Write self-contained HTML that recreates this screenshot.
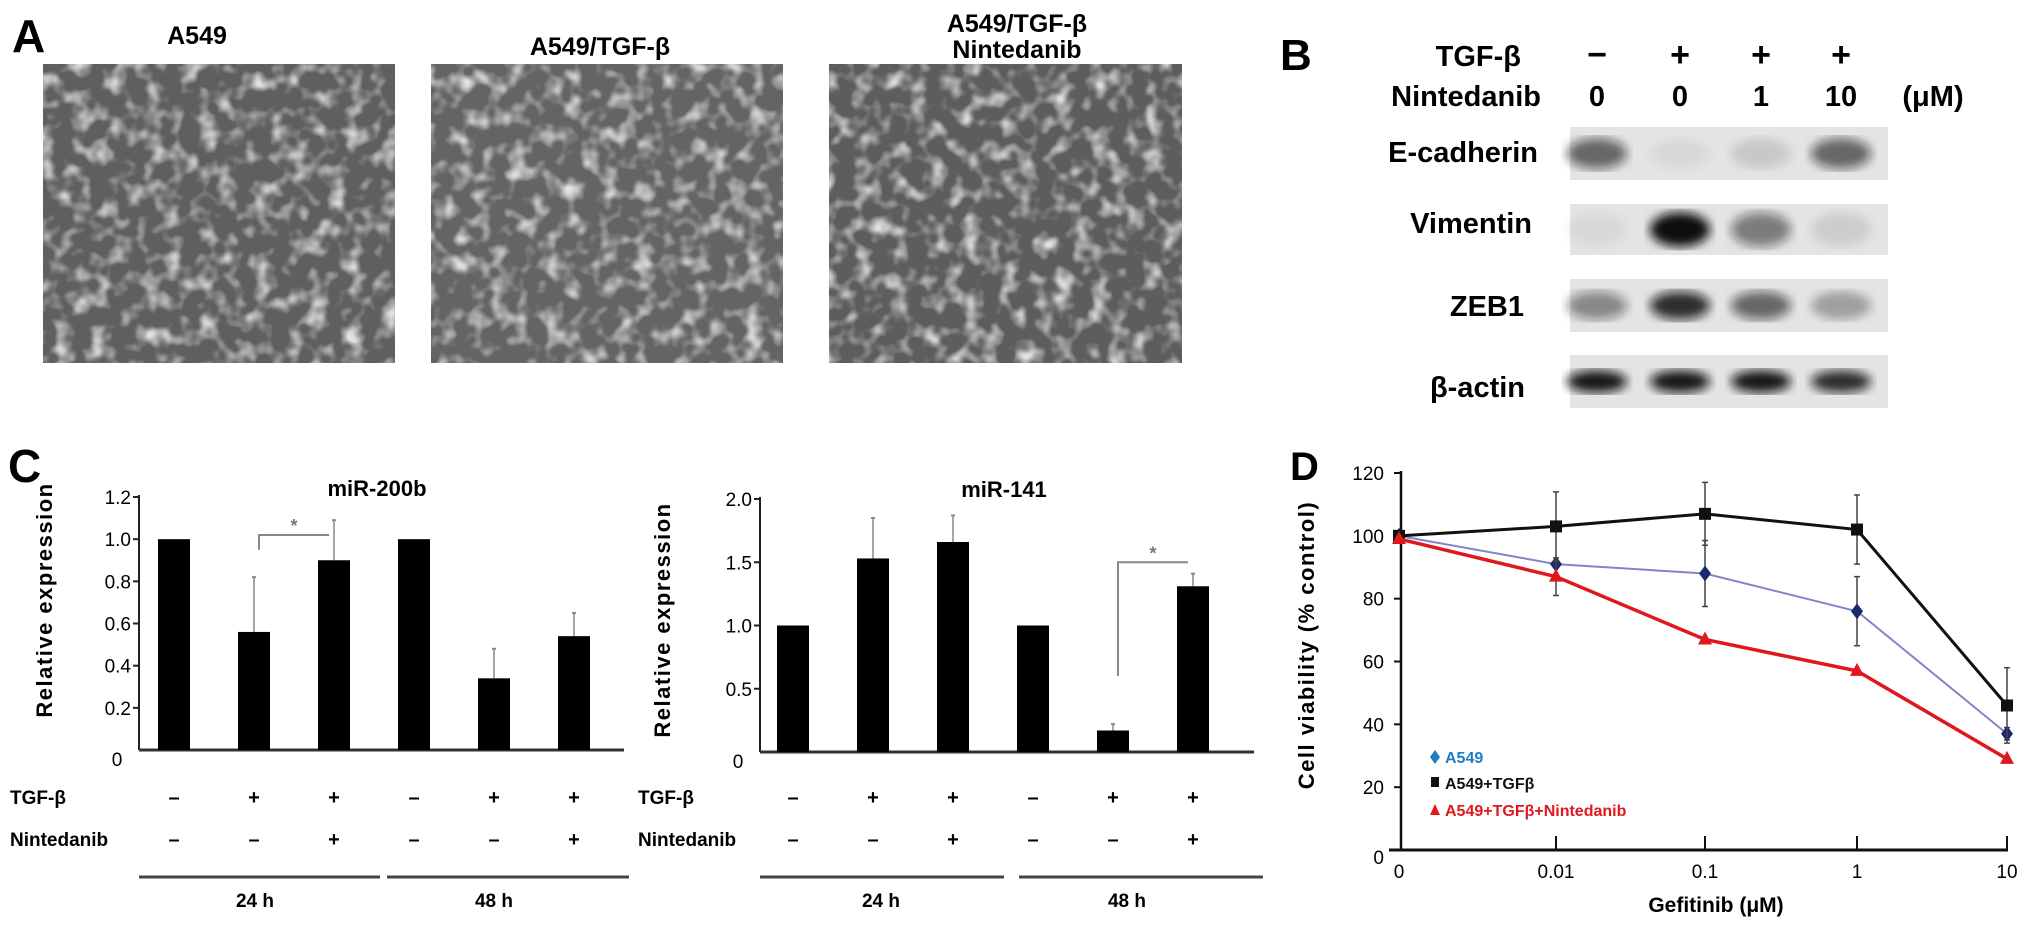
<!DOCTYPE html>
<html><head><meta charset="utf-8"><style>
body{margin:0;background:#fff}
svg{display:block;font-family:"Liberation Sans",Arial,sans-serif;font-weight:bold}
</style></head><body>
<svg id="fig" width="2031" height="927" viewBox="0 0 2031 927" xmlns="http://www.w3.org/2000/svg">
<defs>
<filter id="cells" x="0" y="0" width="100%" height="100%">
<feTurbulence type="fractalNoise" baseFrequency="0.055" numOctaves="2" seed="4"/>
<feColorMatrix type="matrix" values="0 0 0 0 0.75  0 0 0 0 0.75  0 0 0 0 0.75  2.6 0 0 0 -1.2"/>
</filter>
<filter id="blur"><feGaussianBlur stdDeviation="5"/></filter>
</defs>
<rect width="2031" height="927" fill="#fff"/>
<g>
<text x="12" y="52" font-size="46">A</text>
<text x="197" y="44" font-size="25" text-anchor="middle">A549</text>
<text x="600" y="55" font-size="25" text-anchor="middle">A549/TGF-β</text>
<text x="1017" y="32" font-size="25" text-anchor="middle">A549/TGF-β</text>
<text x="1017" y="58" font-size="25" text-anchor="middle">Nintedanib</text>
<g><rect x="43" y="64" width="352" height="299" fill="#5f5f5f"/><rect x="43" y="64" width="352" height="299" filter="url(#cells)"/></g>
<g><rect x="431" y="64" width="352" height="299" fill="#646464"/><rect x="431" y="64" width="352" height="299" filter="url(#cells)"/></g>
<g><rect x="829" y="64" width="353" height="299" fill="#5d5d5d"/><rect x="829" y="64" width="353" height="299" filter="url(#cells)"/></g>
</g>
<g id="pb" font-size="29">
<text x="1280" y="70" font-size="44">B</text>
<text x="1521" y="66" text-anchor="end">TGF-β</text>
<text x="1541" y="106" text-anchor="end">Nintedanib</text>
<text x="1933" y="106" text-anchor="middle">(μM)</text>
<text x="1538" y="162" text-anchor="end">E-cadherin</text>
<text x="1532" y="233" text-anchor="end">Vimentin</text>
<text x="1524" y="316" text-anchor="end">ZEB1</text>
<text x="1525" y="397" text-anchor="end">β-actin</text>
</g>
<g id="gC"></g>
<g id="gD"></g>
</svg>
<script>
const NS="http://www.w3.org/2000/svg";
function mk(p,t,a,txt){const e=document.createElementNS(NS,t);for(const k in a)e.setAttribute(k,a[k]);if(txt!==undefined)e.textContent=txt;p.appendChild(e);return e;}
const laneTGF=["−","+","+","+"];
const laneNint=["0","0","1","10"];
const ecadInt=[0.6,0.05,0.12,0.6];
const vimInt=[0.05,1.0,0.5,0.1];
const zebInt=[0.45,0.85,0.6,0.3];
const actInt=[0.95,0.95,0.95,0.85];
const pb=document.getElementById('pb');
const laneX=[1597,1680,1761,1841];
laneX.forEach((x,i)=>{
 const a=mk(pb,'text',{x:x,y:66,'text-anchor':'middle','font-size':34},laneTGF[i]);
 
 
 const b=mk(pb,'text',{x:x,y:106,'text-anchor':'middle'},laneNint[i]);
 
 
});
const blots=[["ecadherin",127,180,ecadInt,0.8],["vimentin",204,255,vimInt,1.0],["zeb1",279,332,zebInt,0.7],["beta-actin",355,408,actInt,0.45]];
blots.forEach(([nm,y0,y1,vals,hf])=>{
 const g=mk(pb,'g',{});
 
 
 mk(g,'rect',{x:1570,y:y0,width:318,height:y1-y0,fill:'#e4e4e4'});
 const cy=(y0+y1)/2;
 vals.forEach((v,i)=>{
  const el=mk(g,'ellipse',{cx:laneX[i],cy:cy,rx:30,ry:(y1-y0)*0.22*hf+6,fill:'#111','fill-opacity':v,filter:'url(#blur)'});
  
  
 });
});
const c1Vals=[1.0,0.56,0.90,1.0,0.34,0.54];
const c1Err=[0,0.26,0.19,0,0.14,0.11];
const c1Ticks=["0.2","0.4","0.6","0.8","1.0","1.2"];
const c2Vals=[1.0,1.53,1.66,1.0,0.17,1.31];
const c2Err=[0,0.32,0.21,0,0.05,0.10];
const c2Ticks=["0.5","1.0","1.5","2.0"];
const tgfSigns=["–","+","+","–","+","+"];
const nintSigns=["–","–","+","–","–","+"];
const gC=document.getElementById('gC');
mk(gC,'text',{x:8,y:482,'font-size':46},'C');
function barChart(o){
 const g=mk(gC,'g',{});
 
 
 const y=v=>o.base-v/o.max*o.h;
 const bx=i=>o.x0+o.step*i;
 mk(g,'line',{x1:o.ax,y1:y(o.max)-2,x2:o.ax,y2:o.base,stroke:'#222','stroke-width':2});
 mk(g,'line',{x1:o.ax,y1:o.base,x2:o.bend,y2:o.base,stroke:'#333','stroke-width':3});
 o.ticks.forEach(t=>{const v=parseFloat(t);
  mk(g,'line',{x1:o.ax-6,y1:y(v),x2:o.ax,y2:y(v),stroke:'#222','stroke-width':2});
  const tl=mk(g,'text',{x:o.ax-8,y:y(v)+7,'text-anchor':'end','font-size':19,'font-weight':'normal'},t);
  
  
 });
 mk(g,'text',{x:o.ax-22,y:o.base+16,'font-size':19,'font-weight':'normal','text-anchor':'middle'},'0');
 const yl=mk(g,'text',{x:0,y:0,transform:`translate(${o.ylx},${o.yly}) rotate(-90)`,'text-anchor':'middle','font-size':22,'letter-spacing':'1.5'},'Relative expression');
 
 
 const tt=mk(g,'text',{x:o.tx,y:o.ty,'text-anchor':'middle','font-size':22},o.title);
 
 
 o.vals.forEach((v,i)=>{
  const x=bx(i);
  if(o.err[i]>0){
   const e=mk(g,'line',{x1:x,y1:y(v),x2:x,y2:y(v+o.err[i]),stroke:'#888','stroke-width':1.5});
   
   
   mk(g,'line',{x1:x-2,y1:y(v+o.err[i]),x2:x+2,y2:y(v+o.err[i]),stroke:'#888','stroke-width':2});
  }
  const r=mk(g,'rect',{x:x-16,y:y(v),width:32,height:o.base-y(v),fill:'#000'});
  
  
  const s1=mk(g,'text',{x:x,y:804,'text-anchor':'middle','font-size':20},tgfSigns[i]);
  
  
  const s2=mk(g,'text',{x:x,y:846,'text-anchor':'middle','font-size':20},nintSigns[i]);
  
  
 });
 mk(g,'text',{x:o.lx,y:804,'font-size':19},'TGF-β');
 mk(g,'text',{x:o.lx,y:846,'font-size':19},'Nintedanib');
 const [i0,i1]=o.sig; const bxl=bx(i0)+5, bxr=bx(i1)-5;
 const bt=y(o.sigY);
 mk(g,'path',{d:`M${bxl} ${y(o.sigL)} V${bt} H${bxr}`,fill:'none',stroke:'#888','stroke-width':2});
 mk(g,'text',{x:(bxl+bxr)/2,y:bt-3,'text-anchor':'middle','font-size':18,fill:'#777'},'*');
 o.groups.forEach(([a,b,lab,cx])=>{
  mk(g,'line',{x1:a,y1:877,x2:b,y2:877,stroke:'#444','stroke-width':3});
  const t=mk(g,'text',{x:cx,y:907,'text-anchor':'middle','font-size':19},lab);
  
  
 });
}
barChart({name:'chart-mir200b',vals:c1Vals,err:c1Err,ticks:c1Ticks,max:1.2,base:750,h:253,ax:139,bend:624,x0:174,step:80,ylx:52,yly:600,title:'miR-200b',tx:377,ty:496,lx:10,sig:[1,2],sigY:1.02,sigL:0.95,groups:[[139,380,'24 h',255],[387,629,'48 h',494]]});
barChart({name:'chart-mir141',vals:c2Vals,err:c2Err,ticks:c2Ticks,max:2.0,base:752,h:253,ax:760,bend:1254,x0:793,step:80,ylx:670,yly:620,title:'miR-141',tx:1004,ty:497,lx:638,sig:[4,5],sigY:1.5,sigL:0.6,groups:[[760,1004,'24 h',881],[1019,1263,'48 h',1127]]});
const dCats=["0","0.01","0.1","1","10"];
const dA549=[100,91,88,76,37];
const dA549Err=[0,0,10.5,11,2];
const dTGF=[100,103,107,102,46];
const dTGFErr=[0,11,10,11,12];
const dNint=[99,87,67,57,29];
const dNintErr=[0,6,0,0,0];
const dTicks=[0,20,40,60,80,100,120];
const gD=document.getElementById('gD');
mk(gD,'text',{x:1290,y:480,'font-size':40},'D');
const dx=i=>[1399,1556,1705,1857,2007][i];
const dy=v=>850-v/120*377;
mk(gD,'line',{x1:1401,y1:dy(120)-2,x2:1401,y2:850,stroke:'#111','stroke-width':2.5});
mk(gD,'line',{x1:1389,y1:850,x2:2008,y2:850,stroke:'#111','stroke-width':3});
dTicks.forEach(t=>{
 mk(gD,'line',{x1:1394,y1:dy(t),x2:1401,y2:dy(t),stroke:'#111','stroke-width':2});
 const tl=mk(gD,'text',{x:1384,y:dy(t)+(t===0?14:7),'text-anchor':'end','font-size':19,'font-weight':'normal'},String(t));
 
 
});
dCats.forEach((c,i)=>{
 if(i>0) mk(gD,'line',{x1:dx(i),y1:836,x2:dx(i),y2:850,stroke:'#111','stroke-width':2});
 const tl=mk(gD,'text',{x:dx(i),y:878,'text-anchor':'middle','font-size':19,'font-weight':'normal'},c);
 
 
});
mk(gD,'text',{x:1716,y:912,'text-anchor':'middle','font-size':21},'Gefitinib (μM)');
mk(gD,'text',{x:0,y:0,transform:'translate(1314,645) rotate(-90)','text-anchor':'middle','font-size':22,'letter-spacing':'1.5'},'Cell viability (% control)');
function series(name,vals,err,lc,lw,mc,shape){
 const g=mk(gD,'g',{});
 
 
 vals.forEach((v,i)=>{if(err[i]>0){
  const e=mk(g,'path',{d:`M${dx(i)} ${dy(v-err[i])}V${dy(v+err[i])}M${dx(i)-3} ${dy(v-err[i])}h6M${dx(i)-3} ${dy(v+err[i])}h6`,stroke:'#444','stroke-width':1.5,fill:'none'});
  
  
 }});
 mk(g,'polyline',{points:vals.map((v,i)=>dx(i)+','+dy(v)).join(' '),fill:'none',stroke:lc,'stroke-width':lw});
 vals.forEach((v,i)=>{
  const x=dx(i),y=dy(v);let m;
  if(shape==='d') m=mk(g,'path',{d:`M${x} ${y-8}L${x+6} ${y}L${x} ${y+8}L${x-6} ${y}Z`,fill:mc});
  else if(shape==='s') m=mk(g,'rect',{x:x-6,y:y-6,width:12,height:12,fill:mc});
  else m=mk(g,'path',{d:`M${x} ${y-8}L${x+7} ${y+5}L${x-7} ${y+5}Z`,fill:mc});
  
  
 });
}
series('series-a549',dA549,dA549Err,'#8484c8',2,'#1b2a6b','d');
series('series-a549-tgf',dTGF,dTGFErr,'#111',3,'#111','s');
series('series-a549-tgf-nint',dNint,dNintErr,'#e0181e',3.5,'#e0181e','t');
const leg=[['A549','#1f7dc4','#1f7dc4','d',763],['A549+TGFβ','#111','#111','s',789],['A549+TGFβ+Nintedanib','#e0181e','#e0181e','t',816]];
leg.forEach(([lab,tc,mc,sh,y])=>{
 const g=mk(gD,'g',{});
 
 
 const x=1435;
 if(sh==='d') mk(g,'path',{d:`M${x} ${y-13}L${x+5} ${y-6}L${x} ${y+1}L${x-5} ${y-6}Z`,fill:mc});
 else if(sh==='s') mk(g,'rect',{x:x-4,y:y-12,width:8,height:10,fill:mc});
 else mk(g,'path',{d:`M${x} ${y-12}L${x+5} ${y-1}L${x-5} ${y-1}Z`,fill:mc});
 mk(g,'text',{x:1445,y:y,'font-size':16,fill:tc},lab);
});
</script>
</body></html>
